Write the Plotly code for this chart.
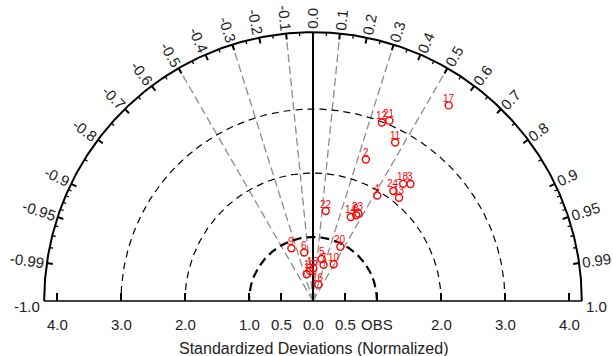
import numpy as np
import plotly.graph_objects as go

# ---------------- data ----------------
point_labels = ["1", "2", "3", "4", "5", "6", "7", "8", "9", "10", "11", "12",
                "13", "14", "15", "16", "17", "18", "19", "20", "21", "22", "23", "24"]
std_dev = [0.43, 2.36, 2.38, 1.93, 0.67, 0.77, 0.59, 1.50, 0.89, 0.66, 2.79, 2.99,
           2.10, 1.44, 0.51, 0.27, 3.72, 2.31, 0.47, 0.95, 3.06, 1.42, 1.54, 2.13]
correlation = [-0.23, 0.35, 0.64, 0.52, 0.20, -0.18, 0.28, 0.45, -0.38, 0.49, 0.46, 0.36,
               0.64, 0.41, 0.01, 0.31, 0.57, 0.61, -0.10, 0.45, 0.39, 0.14, 0.46, 0.59]

std_ticks = [-4, -3, -2, -1, -0.5, 0, 0.5, 1, 2, 3, 4]
std_tick_labels = ["4.0", "3.0", "2.0", "1.0", "0.5", "0.0", "0.5", "OBS", "2.0", "3.0", "4.0"]
corr_major = [-0.99, -0.95, -0.9, -0.8, -0.7, -0.6, -0.5, -0.4, -0.3, -0.2, -0.1, 0.0,
              0.1, 0.2, 0.3, 0.4, 0.5, 0.6, 0.7, 0.8, 0.9, 0.95, 0.99]
corr_major_labels = ["-0.99", "-0.95", "-0.9", "-0.8", "-0.7", "-0.6", "-0.5", "-0.4", "-0.3",
                     "-0.2", "-0.1", "0.0", "0.1", "0.2", "0.3", "0.4", "0.5", "0.6", "0.7",
                     "0.8", "0.9", "0.95", "0.99"]
corr_minor = [0.05, 0.15, 0.25, 0.35, 0.45, 0.55, 0.65, 0.75, 0.85,
              0.91, 0.92, 0.93, 0.94, 0.96, 0.97, 0.98]
corr_minor = corr_minor + [-c for c in corr_minor]
corr_rays = [-0.5, -0.3, -0.1, 0.1, 0.3, 0.5]
std_arcs = [1, 2, 3]
R_MAX = 4.2

PX = 64.0  # pixels per unit
FONT = "Liberation Sans, Arial, sans-serif"
FS_TICK = 15
FS_ANG = 15
FS_TITLE = 16
FS_PT = 10

fig = go.Figure()
shapes = []
annotations = []

def line(x0, y0, x1, y1, color="black", width=1.5, dash="solid"):
    shapes.append(dict(type="line", x0=x0, y0=y0, x1=x1, y1=y1, xref="x", yref="y",
                       line=dict(color=color, width=width, dash=dash), layer="below"))

# std arcs (dashed)
th = np.linspace(0, np.pi, 400)
for r in std_arcs:
    w = 2.2 if r == 1 else 1.2
    d = "9px,5px" if r == 1 else "7px,5px"
    fig.add_trace(go.Scatter(x=r * np.cos(th), y=r * np.sin(th), mode="lines",
                             line=dict(color="black", width=w, dash=d),
                             hoverinfo="skip", showlegend=False))

# outer arc
fig.add_trace(go.Scatter(x=R_MAX * np.cos(th), y=R_MAX * np.sin(th), mode="lines",
                         line=dict(color="black", width=2),
                         hoverinfo="skip", showlegend=False))

# correlation rays
for c in corr_rays:
    s = np.sqrt(1 - c * c)
    line(0, 0, R_MAX * c, R_MAX * s, color="#8c8c8c", width=1.3, dash="8px,4px")
line(0, 0, 0, R_MAX, color="black", width=2)

# baseline
line(-R_MAX, 0, R_MAX, 0, color="black", width=1.6)
for xv, lab in zip(std_ticks, std_tick_labels):
    line(xv, 0, xv, 8 / PX, color="black", width=2)
    annotations.append(dict(x=xv, y=-23 / PX, text=lab, showarrow=False,
                            font=dict(size=FS_TICK, color="#222", family=FONT)))
annotations.append(dict(x=0, y=-47 / PX, text="Standardized Deviations (Normalized)",
                        showarrow=False, font=dict(size=FS_TITLE, color="#222", family=FONT)))

# angular ticks
for c in corr_major:
    s = np.sqrt(1 - c * c)
    r0 = R_MAX - 6 / PX
    line(r0 * c, r0 * s, R_MAX * c, R_MAX * s, color="black", width=2)
for c in corr_minor:
    s = np.sqrt(1 - c * c)
    r0 = R_MAX - 3.5 / PX
    line(r0 * c, r0 * s, R_MAX * c, R_MAX * s, color="black", width=1.3)

def text_width(t, size):
    w = 0
    for ch in t:
        if ch.isdigit():
            w += 0.556
        elif ch == ".":
            w += 0.278
        elif ch == "-":
            w += 0.333
        else:
            w += 0.6
    return w * size

for c, lab in zip(corr_major, corr_major_labels):
    theta = np.arccos(c)
    wpx = text_width(lab, FS_ANG)
    rc = R_MAX + (3 + wpx / 2) / PX
    deg = np.degrees(theta)
    if c > 0:
        ang = -deg
    elif c < 0:
        ang = 180 - deg
    else:
        ang = -90
    annotations.append(dict(x=rc * np.cos(theta), y=rc * np.sin(theta), text=lab,
                            textangle=ang, showarrow=False,
                            font=dict(size=FS_ANG, color="#222", family=FONT)))
annotations.append(dict(x=R_MAX + 2 / PX, y=-5 / PX, text="1.0", showarrow=False,
                        xanchor="left", font=dict(size=FS_ANG, color="#222", family=FONT)))
annotations.append(dict(x=-R_MAX - 2 / PX, y=-5 / PX, text="-1.0", showarrow=False,
                        xanchor="right", font=dict(size=FS_ANG, color="#222", family=FONT)))

# points
sd = np.array(std_dev)
cc = np.array(correlation)
px_ = sd * cc
py_ = sd * np.sqrt(1 - cc ** 2)
fig.add_trace(go.Scatter(x=px_, y=py_, mode="markers",
                         marker=dict(symbol="circle-open", size=7, color="red",
                                     line=dict(width=1.4, color="red")),
                         text=point_labels, hoverinfo="text", showlegend=False))
for xv, yv, lab in zip(px_, py_, point_labels):
    annotations.append(dict(x=xv, y=yv, text=lab, showarrow=False, yshift=7,
                            font=dict(size=FS_PT, color="red", family=FONT)))

fig.update_layout(
    width=613, height=356,
    margin=dict(l=0, r=0, t=0, b=0),
    paper_bgcolor="white", plot_bgcolor="white",
    xaxis=dict(range=[-313 / PX, 300 / PX], visible=False,
               showgrid=False, zeroline=False),
    yaxis=dict(range=[-55 / PX, 301 / PX], visible=False,
               showgrid=False, zeroline=False),
    shapes=shapes, annotations=annotations,
)

fig.write_html("out.html", config={"displayModeBar": False},
               post_script="document.body.style.margin='0';document.body.style.overflow='hidden';")
